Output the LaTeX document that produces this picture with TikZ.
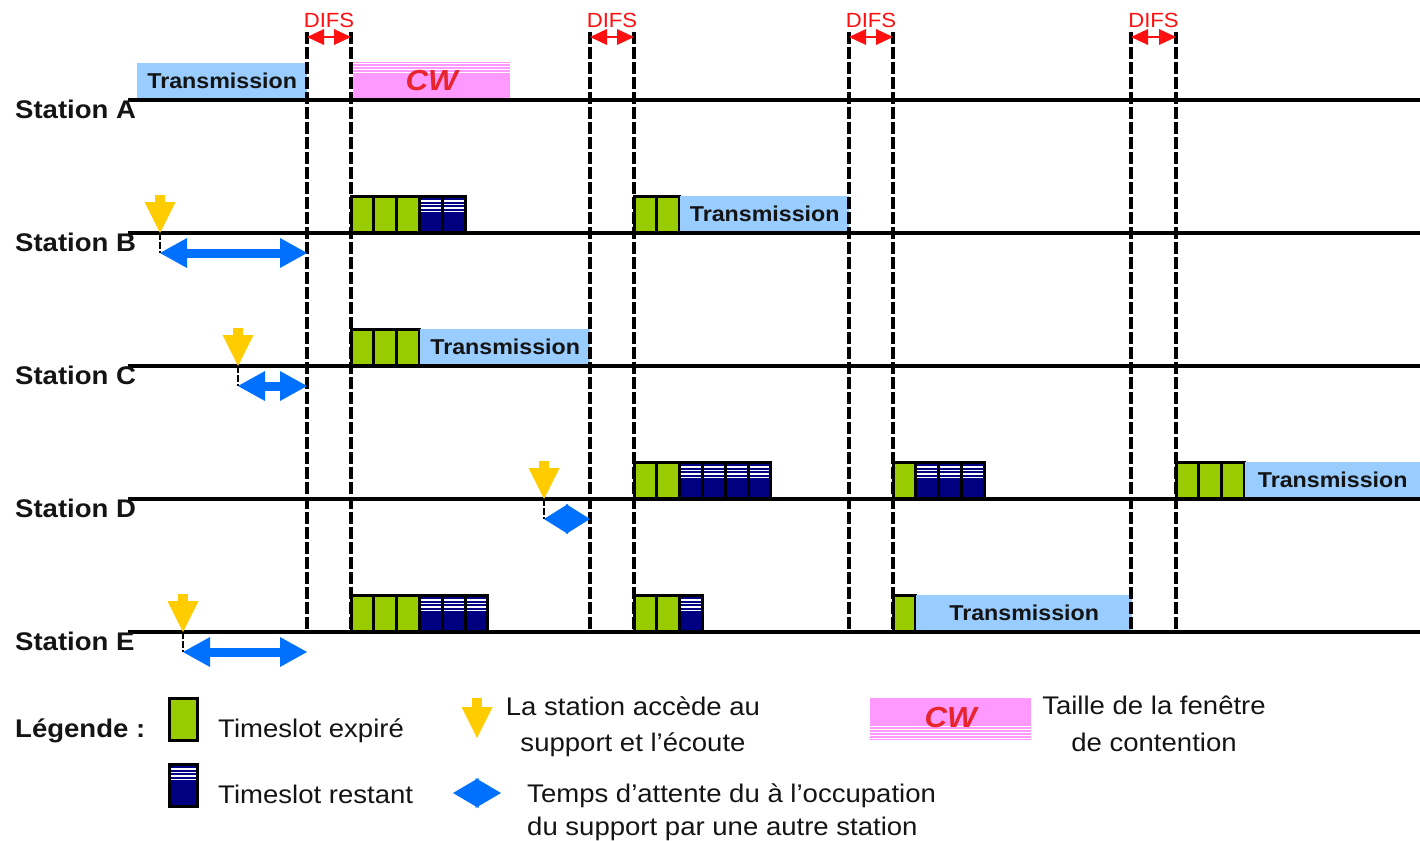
\documentclass[tikz,border=0pt]{standalone}
\usepackage{fontspec}
\setmainfont{Liberation Sans}[FakeStretch=1.08]
\usetikzlibrary{arrows.meta,calc}

\definecolor{txblue}{HTML}{99CCFF}
\definecolor{cwpink}{HTML}{FF99FF}
\definecolor{slotgreen}{HTML}{99CC00}
\definecolor{slotnavy}{HTML}{000080}
\definecolor{accessyellow}{HTML}{FFCC00}
\definecolor{waitblue}{HTML}{0070FF}
\definecolor{difsred}{HTML}{FF1010}
\definecolor{cwred}{HTML}{E8252D}
\definecolor{ink}{HTML}{141414}

% width of one timeslot
\newcommand{\slotw}{22.8}
% a row of timeslots: left x, timeline y, list of kinds (g = expired, n = remaining)
\newcommand{\slotrow}[3]{%
  \foreach \k [count=\i from 0] in {#3}
    \draw[slot\k] ({#1+\i*\slotw},#2) rectangle ++(\slotw,-37);%
}
% a transmission block sitting on a timeline: name, left x, width, timeline y
\newcommand{\txblock}[4]{%
  \node[txbox, minimum width=#3pt, anchor=south west] (#1) at (#2,#4) {Transmission};%
}
% access marker plus waiting arrow: name, access x, timeline y, end x, arrow head length
\newcommand{\waitrow}[5]{%
  \coordinate (#1top) at (#2,#3-38);
  \coordinate (#1tip) at (#2,#3);
  \coordinate (#1start) at (#2,#3+20);
  \coordinate (#1end) at (#4,#3+20);
  \draw[dropline] (#1tip) -- (#1start);
  \draw[waitarrow=#5] (#1start) -- (#1end);
  \draw[accessarrow] (#1top) -- (#1tip);%
}

\begin{document}
\begin{tikzpicture}[x=1pt,y=-1pt,
  station/.style={anchor=base west, inner sep=0pt, text=ink,
    font=\fontsize{25.5}{30}\selectfont\bfseries},
  timeline/.style={line width=4pt, draw=black},
  txbox/.style={fill=txblue, inner sep=0pt, minimum height=37pt, text=ink,
    font=\fontsize{21.5}{24}\selectfont\bfseries},
  slotg/.style={draw=black, line width=3pt, fill=slotgreen},
  slotn/.style={draw=black, line width=3pt, fill=slotnavy,
    path picture={\foreach \s in {5,8.5,12,15.5}
      \draw[white, line width=1.1pt] (path picture bounding box.north west) ++(-2,\s) -- ++(60,0);}},
  cwbox/.style={fill=cwpink, inner sep=0pt, minimum height=38pt, text=cwred,
    font=\fontsize{29}{32}\selectfont\bfseries\itshape},
  cwtop/.style={path picture={\foreach \s in {2,5,8,11}
      \draw[white, line width=1.2pt] (path picture bounding box.north west) ++(-2,\s) -- ++(200,0);}},
  cwbottom/.style={path picture={\foreach \s in {2,5,8,11,14}
      \draw[white, line width=1.2pt] (path picture bounding box.south west) ++(-2,-\s) -- ++(200,0);}},
  difsline/.style={line width=3.2pt, dash pattern=on 12pt off 3pt},
  difsarrow/.style={draw=difsred, line width=2.5pt,
    arrows={Triangle[length=17pt 0 0,width=16pt 0 0,line width=0pt 0 0]-Triangle[length=17pt 0 0,width=16pt 0 0,line width=0pt 0 0]}},
  difslabel/.style={text=difsred, inner sep=0pt, font=\fontsize{20.5}{24}\selectfont},
  accessarrow/.style={draw=accessyellow, line width=10pt,
    arrows={-Triangle[length=31pt 0 0,width=31pt 0 0,line width=0pt 0 0]}},
  waitarrow/.style={draw=waitblue, line width=9pt,
    arrows={Triangle[length=#1 0 0,width=30pt 0 0,line width=0pt 0 0]-Triangle[length=#1 0 0,width=30pt 0 0,line width=0pt 0 0]}},
  waitarrow/.default=27pt,
  dropline/.style={line width=2.2pt, dash pattern=on 7pt off 2pt},
  legend/.style={anchor=base west, inner sep=0pt, text=ink,
    font=\fontsize{25.5}{30}\selectfont},
  legendc/.style={anchor=base, inner sep=0pt, text=ink,
    font=\fontsize{25.5}{30}\selectfont},
]
\useasboundingbox (0,0) rectangle (1420,840);

% ---- blocks on the timelines ----
% Station A
\txblock{txA}{137}{170}{100}
\node[cwbox, cwtop, minimum width=157pt, anchor=south west] (cwA) at (353,100) {CW};
% Station B
\slotrow{351}{233}{g,g,g,n,n}
\slotrow{634}{233}{g,g}
\txblock{txB}{680}{169}{233}
% Station C
\slotrow{351}{366}{g,g,g}
\txblock{txC}{420}{170}{366}
% Station D
\slotrow{634}{499}{g,g,n,n,n,n}
\slotrow{893}{499}{g,n,n,n}
\slotrow{1176}{499}{g,g,g}
\txblock{txD}{1245}{175}{499}
% Station E
\slotrow{351}{632}{g,g,g,n,n,n}
\slotrow{634}{632}{g,g,n}
\slotrow{893}{632}{g}
\txblock{txE}{916}{216}{632}

% ---- timelines and station names ----
\foreach \n/\y in {A/100, B/233, C/366, D/499, E/632} {
  \coordinate (line\n0) at (128,\y);
  \coordinate (line\n1) at (1420,\y);
  \draw[timeline] (line\n0) -- (line\n1);
  \node[station] (st\n) at (15,\y+18.5) {Station \n};
}

% ---- DIFS intervals ----
\foreach \n/\x in {1/307, 2/351, 3/590, 4/634, 5/849, 6/893, 7/1131, 8/1176} {
  \coordinate (top\n) at (\x,32);
  \coordinate (bot\n) at (\x,634);
  \coordinate (difs\n) at (\x,37);
  \draw[difsline] (top\n) -- (bot\n);
}
\foreach \a/\b in {1/2, 3/4, 5/6, 7/8} {
  \draw[difsarrow] (difs\a) -- (difs\b);
  \node[difslabel] (difslab\a) at ($(difs\a)!0.5!(difs\b)+(0,-17)$) {DIFS};
}

% ---- access markers and waiting times ----
\waitrow{wB}{160}{233}{307}{27pt}
\waitrow{wC}{238}{366}{307}{27pt}
\waitrow{wD}{544}{499}{590}{24pt}
\waitrow{wE}{183}{632}{307}{27pt}

% ---- legend ----
\node[legend, font=\fontsize{25.5}{30}\selectfont\bfseries] (leg) at (15,737) {Légende :};
\draw[slotg] (169,698) rectangle (197,740);
\node[legend] (legexp) at (218,737) {Timeslot expiré};
\draw[slotn] (169,764) rectangle (197,806);
\node[legend] (legrest) at (218,803) {Timeslot restant};

\coordinate (legacctop) at (477,698);
\coordinate (legacctip) at (477,738);
\draw[accessarrow] (legacctop) -- (legacctip);
\node[legendc] (legacc1) at (633,715) {La station accède au};
\node[legendc] (legacc2) at (633,751) {support et l’écoute};

\coordinate (legwait0) at (453,793);
\coordinate (legwait1) at (501,793);
\draw[waitarrow=25.5pt] (legwait0) -- (legwait1);
\node[legend] (legwait1t) at (527,802) {Temps d’attente du à l’occupation};
\node[legend] (legwait2t) at (527,835) {du support par une autre station};

\node[cwbox, cwbottom, minimum width=161pt, minimum height=42pt, anchor=north west] (cwleg) at (870,698) {\raisebox{4pt}{CW}};
\node[legendc] (legcw1) at (1154,714) {Taille de la fenêtre};
\node[legendc] (legcw2) at (1154,751) {de contention};
\end{tikzpicture}
\end{document}
